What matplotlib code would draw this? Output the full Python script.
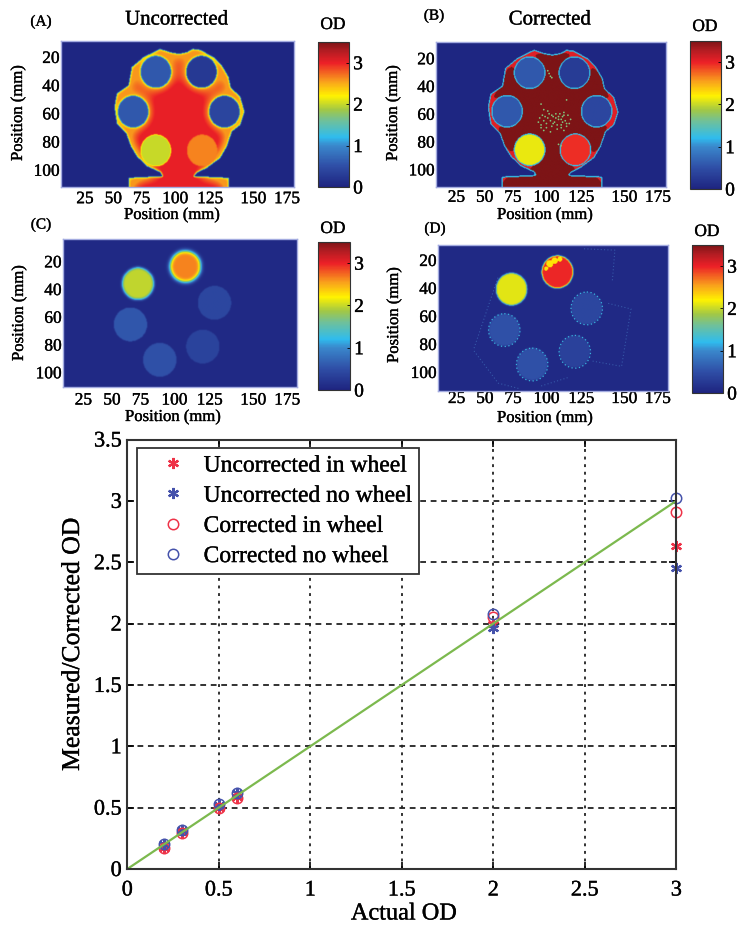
import numpy as np
import matplotlib
matplotlib.use('Agg')
import matplotlib.pyplot as plt
import matplotlib.patheffects as pe
from matplotlib.colors import LinearSegmentedColormap, Normalize
from matplotlib.cm import ScalarMappable
from matplotlib.lines import Line2D
from matplotlib.path import Path
from matplotlib.text import Text

plt.rcParams['font.family'] = ['Liberation Serif', 'DejaVu Serif']

W, H = 745, 930

# ---- bottom chart values ----
actual_od = [0.2, 0.3, 0.5, 0.6, 2.0, 3.0]
uncorrected_wheel = [0.17, 0.30, 0.50, 0.59, 2.00, 2.63]
uncorrected_nowheel = [0.20, 0.32, 0.52, 0.62, 1.96, 2.45]
corrected_wheel = [0.17, 0.29, 0.50, 0.58, 2.05, 2.91]
corrected_nowheel = [0.20, 0.32, 0.53, 0.62, 2.08, 3.02]
identity_x = [0, 3]
identity_y = [0, 3]
main_xticks = [0, 0.5, 1, 1.5, 2, 2.5, 3]
main_xlabels = ['0', '0.5', '1', '1.5', '2', '2.5', '3']
main_yticks = [0, 0.5, 1, 1.5, 2, 2.5, 3, 3.5]
main_ylabels = ['0', '0.5', '1', '1.5', '2', '2.5', '3', '3.5']

# ---- phantom maps (mm) ----
map_xticks = [25, 46, 67, 92, 118, 150, 175]
map_xlabels = ['25', '50', '75', '100', '125', '150', '175']
map_yticks = [20, 40, 60, 80, 100]
cbar_ticks = [0, 1, 2, 3]

body_x = [94.5, 100.7, 105.1, 110.6, 120.5, 126.7, 131.7, 133.4, 140.4, 143.6, 140.4, 134.2,
          130.5, 125.5, 115.6, 108.1, 106.1, 131.7, 131.7, 57.3, 57.3, 82.6, 80.8, 70.9,
          63.5, 59.0, 55.5, 48.6, 46.8, 48.6, 57.3, 59.7, 68.4, 80.8, 88.3]
body_y = [17.6, 16.5, 14.1, 14.8, 20.0, 25.9, 34.1, 41.6, 48.2, 58.8, 68.2, 72.9,
          83.5, 91.8, 98.8, 102.4, 104.7, 105.9, 120.0, 120.0, 105.9, 104.7, 101.9, 97.6,
          90.6, 83.5, 74.1, 67.1, 55.3, 45.9, 40.0, 27.1, 20.0, 14.1, 16.5]

a_disk_x = [77.6, 111.6, 60.7, 128.7, 77.6, 112.1]
a_disk_y = [30.4, 30.4, 58.8, 58.8, 86.4, 86.4]
a_disk_od = [0.6, 0.27, 0.6, 0.4, 2.0, 2.65]

b_disk_x = [79.6, 113.1, 62.7, 129.7, 79.6, 113.8]
b_disk_y = [30.3, 30.3, 58.2, 58.2, 86.1, 86.1]
b_disk_od = [0.6, 0.3, 0.6, 0.42, 2.12, 2.95]

c_disk_x = [99.9, 65.0, 121.3, 59.4, 112.7, 81.0]
c_disk_y = [23.6, 36.1, 50.0, 65.7, 81.8, 91.4]
c_disk_od = [2.65, 1.98, 0.42, 0.58, 0.38, 0.52]
c_disk_r = [11.6, 11.8, 12.3, 12.3, 12.3, 12.3]
c_disk_blur = [1.5, 0.9, 0.35, 0.35, 0.35, 0.35]

d_disk_x = [100.2, 65.9, 122.0, 60.5, 113.1, 81.3]
d_disk_y = [28.4, 40.8, 54.6, 70.1, 85.6, 94.7]
d_disk_od = [2.98, 2.1, 0.42, 0.52, 0.36, 0.52]

# yellow flecks at the top of the red disk in (D)
fleck_x = [94.5, 98.0, 102.0, 91.8]
fleck_y = [22.5, 20.3, 19.2, 26.0]
fleck_r = [2.6, 2.4, 1.8, 1.5]

speck_x = [86, 87, 88, 89, 90, 91, 92, 92, 93, 94, 95, 96, 97, 98, 99, 100, 101, 102, 103, 104, 104,
           105, 106, 107, 108, 109, 110, 88, 90, 93, 96, 95, 97, 99, 100, 101, 103, 105, 107, 103, 105,
           93, 94, 95, 96, 88, 90, 107, 101, 103]
speck_y = [66, 63, 68, 61, 65, 62, 67, 70, 63, 60, 65, 69, 62, 66, 63, 71, 64, 60, 68, 62, 66,
           59, 65, 69, 61, 67, 64, 70, 72, 58, 61, 73, 67, 60, 68, 62, 70, 72, 67, 64, 61,
           29, 31, 33, 34, 53, 57, 50, 82, 83]

# faint plate outlines in (D)
plate_x = [[138, 155, 148, 125], [120, 143, 141], [38, 56], [38, 56, 72], [88, 108]]
plate_y = [[51, 55, 96, 92], [12, 13, 36], [83, 32], [85, 108, 112], [110, 104]]

# colormap
cmap_od = [0.0, 0.5, 1.0, 1.2, 1.6, 1.87, 2.2, 2.55, 3.0, 3.3, 3.5]
cmap_hex = ['#1e2480', '#2f4ea6', '#3a88cc', '#2fbcee', '#6fc09a', '#a2c845',
            '#fff200', '#f9a01c', '#ec2027', '#b01c22', '#7d1416']
od_map = LinearSegmentedColormap.from_list('od', list(zip(np.array(cmap_od) / 3.5, cmap_hex)))
od_norm = Normalize(0, 3.5)

BG_OD = 0.04
CELL = 0.5


def box(l, t, r, b):
    return [l / W, 1 - b / H, (r - l) / W, (b - t) / H]


def blur(a, sigma):
    # sigma in mm, separable gaussian with edge padding
    s = sigma / CELL
    n = int(3 * s) + 1
    k = np.exp(-0.5 * (np.arange(-n, n + 1) / s) ** 2)
    k /= k.sum()
    p = np.pad(a.astype(float), n, mode='edge')
    p = np.apply_along_axis(lambda v: np.convolve(v, k, mode='same'), 0, p)
    p = np.apply_along_axis(lambda v: np.convolve(v, k, mode='same'), 1, p)
    return p[n:-n, n:-n]


def grid(lims):
    xs = np.arange(lims[0], lims[1] + CELL, CELL)
    ys = np.arange(lims[2], lims[3] + CELL, CELL)
    return np.meshgrid(xs, ys)


def disk_mask(X, Y, cx, cy, r):
    return (X - cx) ** 2 + (Y - cy) ** 2 <= r ** 2


def body_mask(X, Y, dx, dy):
    verts = np.column_stack([np.array(body_x) + dx, np.array(body_y) + dy])
    pts = np.column_stack([X.ravel(), Y.ravel()])
    return Path(verts).contains_points(pts).reshape(X.shape)


def map_a(lims):
    X, Y = grid(lims)
    body = body_mask(X, Y, 0, 0)
    holes = np.zeros_like(body)
    for cx, cy in zip(a_disk_x[:4], a_disk_y[:4]):
        holes |= disk_mask(X, Y, cx, cy, 11.3)
    solid = body & ~holes
    s = blur(solid, 6)
    field = 2.58 + 0.44 * np.clip((s - 0.62) / 0.25, 0, 1)
    # yellow band along every edge
    e = blur(solid, 1.3)
    field = 2.12 + (field - 2.12) * np.clip((e - 0.5) / 0.42, 0, 1)
    v = BG_OD + (field - BG_OD) * blur(body, 0.35)
    for cx, cy, od in zip(a_disk_x, a_disk_y, a_disk_od):
        c = blur(disk_mask(X, Y, cx, cy, 11.3), 0.35)
        v = v * (1 - c) + od * c
    return v


def map_b(lims):
    X, Y = grid(lims)
    body = body_mask(X, Y, 2, 0)
    holes = np.zeros_like(body)
    for cx, cy in zip(b_disk_x, b_disk_y):
        holes |= disk_mask(X, Y, cx, cy, 11.3)
    s = blur(body & ~holes, 4)
    v = np.where(s > 0.48, 3.5, 3.05)
    e = blur(body, 0.55)
    v = np.where(e < 0.2, BG_OD, v)
    v = np.where((e >= 0.2) & (e < 0.75), 1.25, v)
    for cx, cy, od in zip(b_disk_x, b_disk_y, b_disk_od):
        c = blur(disk_mask(X, Y, cx, cy, 11.4), 0.5)
        v = np.where(c > 0.2, 1.25, v)
        v = np.where(c > 0.75, od, v)
    return v


def map_c(lims):
    X, Y = grid(lims)
    v = np.full(X.shape, BG_OD + 0.03)
    for cx, cy, r, sg, od in zip(c_disk_x, c_disk_y, c_disk_r, c_disk_blur, c_disk_od):
        c = blur(disk_mask(X, Y, cx, cy, r), sg)
        v = v * (1 - c) + od * c
    return v


def map_d(lims):
    X, Y = grid(lims)
    v = np.full(X.shape, BG_OD + 0.03)
    for cx, cy, od in zip(d_disk_x, d_disk_y, d_disk_od):
        c = blur(disk_mask(X, Y, cx, cy, 11.7), 0.5)
        v = v * (1 - c) + od * c
    inside = disk_mask(X, Y, d_disk_x[0], d_disk_y[0], 11)
    for fx, fy, fr in zip(fleck_x, fleck_y, fleck_r):
        v = np.where(disk_mask(X, Y, fx, fy, fr) & inside, 2.25, v)
    return v


def draw_map(ax_box, cb_box, lims, data, xlab, ylab, tag, tag_xy, od_xy, xpad):
    ax = fig.add_axes(box(*ax_box))
    ax.imshow(data, cmap=od_map, norm=od_norm, aspect='auto', interpolation='bilinear',
              extent=[lims[0], lims[1], lims[3], lims[2]])
    ax.set_xlim(lims[0], lims[1])
    ax.set_ylim(lims[3], lims[2])
    ax.set_xticks(map_xticks, map_xlabels)
    ax.set_yticks(map_yticks, [str(t) for t in map_yticks])
    ax.tick_params(length=0, labelsize=12.5)
    ax.tick_params(axis='x', pad=xpad)
    ax.tick_params(axis='y', pad=1)
    for sp in ax.spines.values():
        sp.set_color('#a3abe0')
        sp.set_linewidth(1)
    ax.set_xlabel('Position (mm)', fontsize=12)
    ax.set_ylabel('Position (mm)', fontsize=12)
    ax.xaxis.set_label_coords(xlab[0] / W, 1 - xlab[1] / H, transform=fig.transFigure)
    ax.yaxis.set_label_coords(ylab[0] / W, 1 - ylab[1] / H, transform=fig.transFigure)
    ax.xaxis.label.set_verticalalignment('center')
    ax.yaxis.label.set_verticalalignment('center')

    cax = fig.add_axes(box(*cb_box))
    cb = fig.colorbar(ScalarMappable(norm=od_norm, cmap=od_map), cax=cax)
    cb.set_ticks(cbar_ticks)
    cb.ax.tick_params(labelsize=14, length=2, direction='in', pad=3, width=0.6)
    cb.outline.set_linewidth(0.8)
    cb.outline.set_edgecolor('#333333')

    fig.text(tag_xy[0] / W, 1 - tag_xy[1] / H, tag, fontsize=11, ha='center', va='center')
    fig.text(od_xy[0] / W, 1 - od_xy[1] / H, 'OD', fontsize=12.5, ha='center', va='center')
    return ax


fig = plt.figure(figsize=(W / 100, H / 100), dpi=100, facecolor='white')

# panel A
lims = (7.2, 180.2, 8.7, 112.2)
draw_map((61, 41, 294, 187), (318, 42, 349, 187), lims, map_a(lims),
         (172, 215), (18, 113), '(A)', (41, 22), (333, 25), 3)
fig.text(177 / W, 1 - 20 / H, 'Uncorrected', fontsize=15, ha='center', va='center')

# panel B
lims = (9.8, 181.0, 8.3, 112.7)
ax_b = draw_map((436, 42, 666, 187), (690, 41, 721, 189), lims, map_b(lims),
                (545, 215), (393, 113), '(B)', (434, 16), (705, 27), 2)
ax_b.scatter(speck_x, speck_y, c=[1.7] * len(speck_x), cmap=od_map, norm=od_norm, s=1.6, linewidths=0)
fig.text(550 / W, 1 - 20 / H, 'Corrected', fontsize=15, ha='center', va='center')

# panel C
lims = (10.0, 182.2, 3.9, 110.6)
draw_map((63, 239, 297, 387), (318, 242, 350, 390), lims, map_c(lims),
         (173, 417), (19, 313), '(C)', (41, 225), (333, 229), 4)

# panel D
lims = (11.1, 182.6, 9.3, 113.6)
ax_d = draw_map((438, 245, 668, 391), (692, 245, 723, 393), lims, map_d(lims),
                (545, 418), (394, 315), '(D)', (435, 229), (707, 232), 0)
for px, py in zip(plate_x, plate_y):
    ax_d.plot(px, py, color='#3a62b0', lw=0.8, ls=(0, (1, 2)), alpha=0.8)
for cx, cy in zip(d_disk_x[2:], d_disk_y[2:]):
    ax_d.add_patch(plt.Circle((cx, cy), 11.7, fill=False, ec='#38b0dc', lw=0.9, ls=(0, (1, 2))))

# bottom chart
ax = fig.add_axes(box(127.3, 439.5, 676.3, 869))
ax.set_xlim(0, 3)
ax.set_ylim(0, 3.5)
ax.xaxis.grid(True, color='#222222', lw=1.3, ls=(0, (1.6, 2.6)))
ax.yaxis.grid(True, color='#222222', lw=1.3, ls=(0, (3.2, 2.6)))
ax.set_axisbelow(True)

RED = '#ee3348'
BLUE = '#4552ab'
ast = dict(ls='none', marker=(6, 2, 0), ms=8, mew=1.6, clip_on=False)
ring = dict(ls='none', marker='o', ms=7.5, mew=1.1, mfc='none', clip_on=False)
ax.plot(actual_od, uncorrected_wheel, color=RED, **ast)
ax.plot(actual_od, uncorrected_nowheel, color=BLUE, **ast)
ax.plot(actual_od, corrected_wheel, color=RED, **ring)
ax.plot(actual_od, corrected_nowheel, color=BLUE, **ring)
ax.plot(identity_x, identity_y, color='#7cb94e', lw=1.6)

ax.set_xticks(main_xticks, main_xlabels)
ax.set_yticks(main_yticks, main_ylabels)
ax.tick_params(direction='in', top=True, right=True, length=5, width=1.2, labelsize=16, pad=4)
ax.tick_params(axis='x', pad=9)
for sp in ax.spines.values():
    sp.set_linewidth(1.5)
    sp.set_color('#333333')
ax.set_xlabel('Actual OD', fontsize=17.5)
ax.set_ylabel('Measured/Corrected OD', fontsize=18.5)
ax.xaxis.set_label_coords(404 / W, 1 - 914 / H, transform=fig.transFigure)
ax.yaxis.set_label_coords(73 / W, 1 - 644 / H, transform=fig.transFigure)
ax.xaxis.label.set_verticalalignment('center')
ax.yaxis.label.set_verticalalignment('center')

handles = [
    Line2D([], [], color=RED, **ast),
    Line2D([], [], color=BLUE, **ast),
    Line2D([], [], color=RED, **ring),
    Line2D([], [], color=BLUE, **ring),
]
leg = ax.legend(handles, ['Uncorrected in wheel', 'Uncorrected no wheel', 'Corrected in wheel', 'Corrected no wheel'],
                loc='upper left', bbox_to_anchor=(137 / W, 1 - 448 / H), bbox_transform=fig.transFigure,
                fontsize=17, frameon=True, fancybox=False, framealpha=1, edgecolor='#333333',
                borderaxespad=0, handlelength=2.46, handletextpad=0.06, labelspacing=0.365,
                borderpad=0.3)
leg.get_frame().set_linewidth(1.3)

# the scan prints a little heavy, thicken all text slightly
for t in fig.findobj(Text):
    t.set_path_effects([pe.withStroke(linewidth=0.25, foreground='black')])

fig.savefig('out.png', dpi=100)
